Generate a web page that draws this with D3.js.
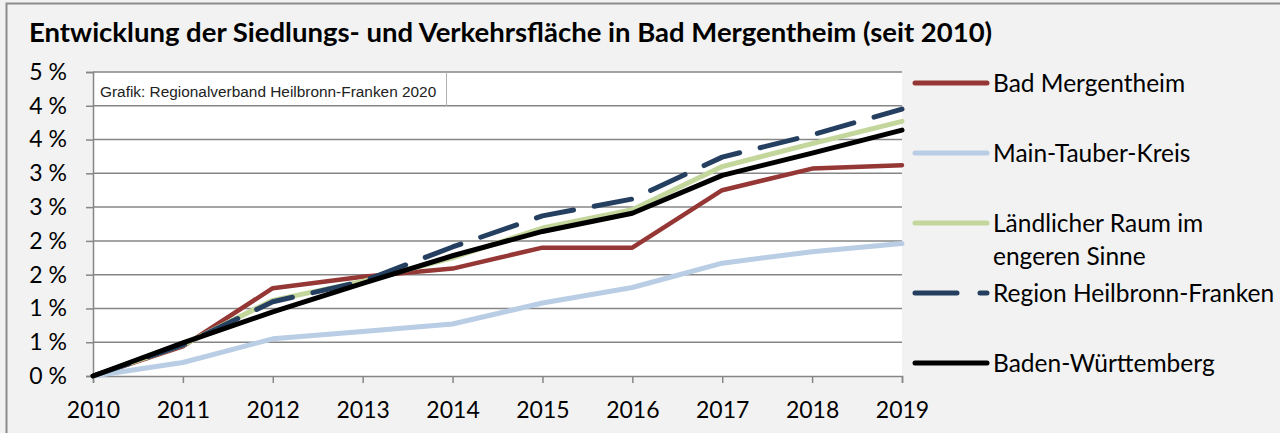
<!DOCTYPE html>
<html lang="de">
<head>
<meta charset="UTF-8">
<title>Siedlungs- und Verkehrsfläche Bad Mergentheim</title>
<script src="https://cdn.jsdelivr.net/npm/d3@7"></script>
<style>
  body { margin: 0; background: #fff; }
  text { font-family: Lato, "Open Sans", sans-serif; }
</style>
</head>
<body>
<div id="chart"></div>
<script>
// Jahre und Zuwachs in Prozent gegenüber 2010
var years = [2010, 2011, 2012, 2013, 2014, 2015, 2016, 2017, 2018, 2019];
var badMergentheim = [0, 0.44, 1.30, 1.47, 1.59, 1.90, 1.90, 2.75, 3.07, 3.12];
var mainTauber = [0, 0.20, 0.55, 0.66, 0.77, 1.08, 1.31, 1.67, 1.84, 1.96];
var laendlich = [0, 0.46, 1.12, 1.40, 1.75, 2.19, 2.46, 3.10, 3.44, 3.77];
var heilbronnFranken = [0, 0.46, 1.10, 1.40, 1.91, 2.37, 2.62, 3.24, 3.57, 3.95];
var badenWuerttemberg = [0, 0.49, 0.95, 1.37, 1.78, 2.14, 2.41, 2.97, 3.30, 3.64];
var yTicks = [0, 0.5, 1, 1.5, 2, 2.5, 3, 3.5, 4, 4.5];

var series = [
  { name: ["Bad Mergentheim"], values: badMergentheim, color: "#953735", w: 4.5 },
  { name: ["Main-Tauber-Kreis"], values: mainTauber, color: "#b9cde5", w: 5 },
  { name: ["Ländlicher Raum im", "engeren Sinne"], values: laendlich, color: "#c3d69b", w: 5 },
  { name: ["Region Heilbronn-Franken"], values: heilbronnFranken, color: "#243f60", w: 5, dash: "38,21" },
  { name: ["Baden-Württemberg"], values: badenWuerttemberg, color: "#000000", w: 5 }
];

var width = 1280, height = 433;
var svg = d3.select("#chart").append("svg")
  .attr("width", width)
  .attr("height", height);

// Hintergrund + Rahmen
svg.append("rect").attr("width", width).attr("height", height).attr("fill", "#f2f2f2");
svg.append("rect").attr("x", 6.5).attr("y", 3.5).attr("width", width + 10).attr("height", height + 10)
  .attr("fill", "none").attr("stroke", "#8c8c8c").attr("stroke-width", 2);

var x = d3.scaleLinear().domain([2010, 2019]).range([93, 902]);
var y = d3.scaleLinear().domain([0, 4.5]).range([376, 72]);

// Plotfläche
svg.append("rect").attr("x", 93).attr("y", 72).attr("width", 809).attr("height", 304).attr("fill", "#fff");

// Gitterlinien
svg.append("g").selectAll("line")
  .data(yTicks.slice(1))
  .enter().append("line")
    .attr("x1", 93).attr("x2", 902)
    .attr("y1", d => y(d)).attr("y2", d => y(d))
    .attr("stroke", "#868686").attr("stroke-width", 1.5);

// Quellenangabe
svg.append("rect").attr("x", 94).attr("y", 73).attr("width", 352).attr("height", 32).attr("fill", "#fff");
svg.append("line").attr("x1", 446.5).attr("x2", 446.5).attr("y1", 72).attr("y2", 106)
  .attr("stroke", "#b0b0b0").attr("stroke-width", 1);
svg.append("text").attr("x", 100).attr("y", 97)
  .style("font-family", "'Liberation Sans', Arial, sans-serif")
  .style("font-size", "15.4px")
  .attr("fill", "#222")
  .text("Grafik: Regionalverband Heilbronn-Franken 2020");

// Achsen
var yAxis = svg.append("g").attr("transform", "translate(93,0)")
  .call(d3.axisLeft(y).tickValues(yTicks).tickSize(7).tickPadding(19)
    .tickFormat(d => Math.round(d) + " %"));
var xAxis = svg.append("g").attr("transform", "translate(0,376)")
  .call(d3.axisBottom(x).tickValues(years).tickSize(7).tickPadding(14).tickFormat(d3.format("d")));

[yAxis, xAxis].forEach(function (a) {
  a.select(".domain").attr("stroke", "#868686").attr("stroke-width", 1.5);
  a.selectAll(".tick line").attr("stroke", "#868686").attr("stroke-width", 1.5);
  a.selectAll("text").style("font-family", "Lato, sans-serif").style("font-size", "23px").attr("fill", "#000");
});
xAxis.selectAll("text").attr("dy", "0.9em");

// Linien
var line = d3.line().x((d, i) => x(years[i])).y(d => y(d));
svg.append("g").selectAll("path")
  .data(series)
  .enter().append("path")
    .attr("d", d => line(d.values))
    .attr("fill", "none")
    .attr("stroke", d => d.color)
    .attr("stroke-width", d => d.w)
    .attr("stroke-linejoin", "round")
    .attr("stroke-linecap", "round")
    .attr("stroke-dasharray", d => d.dash || null);

// Legende
var legendY = [83, 153, 223, 293, 363];
var leg = svg.append("g").selectAll("g")
  .data(series)
  .enter().append("g")
    .attr("transform", (d, i) => "translate(0," + legendY[i] + ")");
leg.append("line")
  .attr("x1", 915).attr("x2", 987)
  .attr("stroke", d => d.color)
  .attr("stroke-width", 5)
  .attr("stroke-linecap", "round")
  .attr("stroke-dasharray", d => d.dash ? "42,23" : null);
leg.append("text")
  .attr("x", 993)
  .attr("y", 0)
  .style("font-size", "24.5px")
  .selectAll("tspan")
  .data(d => d.name)
  .enter().append("tspan")
    .attr("x", 993)
    .attr("dy", (d, i) => i === 0 ? "0.35em" : "33px")
    .text(d => d);

// Titel
svg.append("text")
  .attr("x", 29).attr("y", 42)
  .style("font-size", "27.5px")
  .style("font-weight", "bold")
  .text("Entwicklung der Siedlungs- und Verkehrsfläche in Bad Mergentheim (seit 2010)");
</script>
</body>
</html>
